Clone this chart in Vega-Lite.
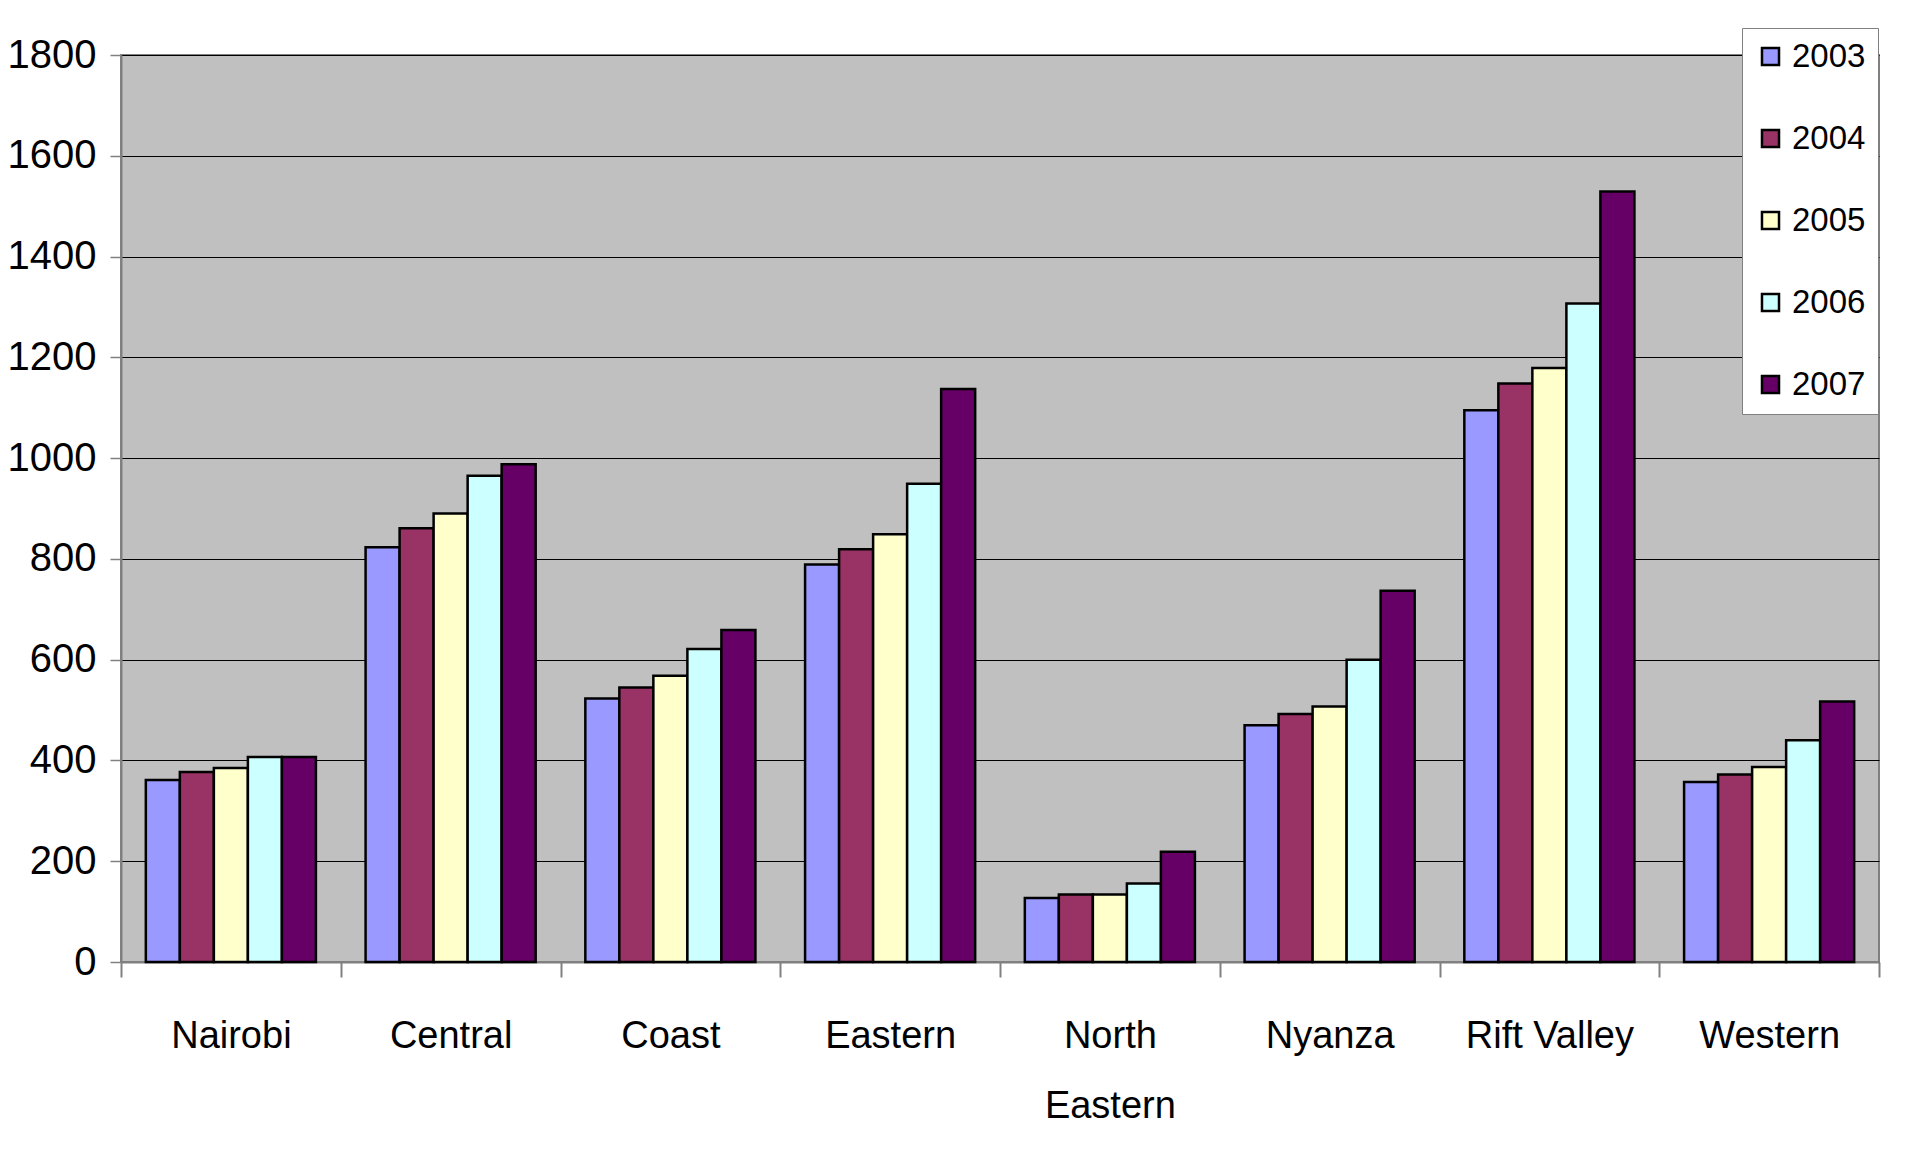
{
  "$schema": "https://vega.github.io/schema/vega-lite/v6.json",
  "width": 1758,
  "height": 907,
  "autosize": {"type": "none"},
  "padding": {"left": 121, "top": 55, "right": 30, "bottom": 188},
  "background": "white",
  "config": {
    "font": "Liberation Sans",
    "view": {"fill": "#C0C0C0", "stroke": "#808080", "strokeWidth": 2}
  },
  "data": {
    "values": [
      {"region": "Nairobi", "year": "2003", "value": 361},
      {"region": "Nairobi", "year": "2004", "value": 377},
      {"region": "Nairobi", "year": "2005", "value": 385},
      {"region": "Nairobi", "year": "2006", "value": 407},
      {"region": "Nairobi", "year": "2007", "value": 407},
      {"region": "Central", "year": "2003", "value": 823},
      {"region": "Central", "year": "2004", "value": 861},
      {"region": "Central", "year": "2005", "value": 890},
      {"region": "Central", "year": "2006", "value": 965},
      {"region": "Central", "year": "2007", "value": 988},
      {"region": "Coast", "year": "2003", "value": 523},
      {"region": "Coast", "year": "2004", "value": 545},
      {"region": "Coast", "year": "2005", "value": 568},
      {"region": "Coast", "year": "2006", "value": 621},
      {"region": "Coast", "year": "2007", "value": 659},
      {"region": "Eastern", "year": "2003", "value": 789},
      {"region": "Eastern", "year": "2004", "value": 819},
      {"region": "Eastern", "year": "2005", "value": 849},
      {"region": "Eastern", "year": "2006", "value": 949},
      {"region": "Eastern", "year": "2007", "value": 1137},
      {"region": "North Eastern", "year": "2003", "value": 127},
      {"region": "North Eastern", "year": "2004", "value": 134},
      {"region": "North Eastern", "year": "2005", "value": 134},
      {"region": "North Eastern", "year": "2006", "value": 156},
      {"region": "North Eastern", "year": "2007", "value": 219},
      {"region": "Nyanza", "year": "2003", "value": 470},
      {"region": "Nyanza", "year": "2004", "value": 492},
      {"region": "Nyanza", "year": "2005", "value": 507},
      {"region": "Nyanza", "year": "2006", "value": 600},
      {"region": "Nyanza", "year": "2007", "value": 737},
      {"region": "Rift Valley", "year": "2003", "value": 1095},
      {"region": "Rift Valley", "year": "2004", "value": 1148},
      {"region": "Rift Valley", "year": "2005", "value": 1179},
      {"region": "Rift Valley", "year": "2006", "value": 1307},
      {"region": "Rift Valley", "year": "2007", "value": 1529},
      {"region": "Western", "year": "2003", "value": 357},
      {"region": "Western", "year": "2004", "value": 372},
      {"region": "Western", "year": "2005", "value": 387},
      {"region": "Western", "year": "2006", "value": 440},
      {"region": "Western", "year": "2007", "value": 517}
    ]
  },
  "mark": {"type": "bar", "stroke": "black", "strokeWidth": 2.5, "cornerRadius": 0},
  "encoding": {
    "x": {
      "field": "region",
      "type": "nominal",
      "sort": ["Nairobi", "Central", "Coast", "Eastern", "North Eastern", "Nyanza", "Rift Valley", "Western"],
      "scale": {"paddingInner": 0, "paddingOuter": 0},
      "axis": {
        "title": null,
        "labelAngle": 0,
        "labelFontSize": 38,
        "labelColor": "black",
        "labelPadding": 40,
        "labelLineHeight": 70,
        "labelBaseline": "top",
        "labelLimit": 0,
        "labelExpr": "datum.value == 'North Eastern' ? ['North', 'Eastern'] : datum.value",
        "tickBand": "extent",
        "tickSize": 15,
        "tickColor": "#808080",
        "tickWidth": 2,
        "domainColor": "#808080",
        "domainWidth": 2,
        "grid": false
      }
    },
    "xOffset": {
      "field": "year",
      "type": "nominal",
      "scale": {"paddingInner": 0, "paddingOuter": 0.73}
    },
    "y": {
      "field": "value",
      "type": "quantitative",
      "scale": {"domain": [0, 1800], "nice": false},
      "axis": {
        "title": null,
        "values": [0, 200, 400, 600, 800, 1000, 1200, 1400, 1600, 1800],
        "format": "d",
        "labelFontSize": 40,
        "labelColor": "black",
        "labelPadding": 14,
        "tickSize": 11,
        "tickColor": "#808080",
        "tickWidth": 1.5,
        "domainColor": "#808080",
        "domainWidth": 2,
        "grid": true,
        "gridColor": "black",
        "gridWidth": 1.2
      }
    },
    "fill": {
      "field": "year",
      "type": "nominal",
      "scale": {
        "domain": ["2003", "2004", "2005", "2006", "2007"],
        "range": ["#9999FF", "#993366", "#FFFFCC", "#CCFFFF", "#660066"]
      },
      "legend": {
        "title": null,
        "orient": "none",
        "legendX": 1621,
        "legendY": -27,
        "fillColor": "white",
        "strokeColor": "#808080",
        "padding": 12,
        "symbolType": "square",
        "symbolSize": 290,
        "symbolStrokeColor": "black",
        "symbolStrokeWidth": 2.5,
        "symbolOpacity": 1,
        "labelFontSize": 33,
        "labelColor": "black",
        "labelOffset": 5,
        "rowPadding": 48
      }
    }
  }
}
